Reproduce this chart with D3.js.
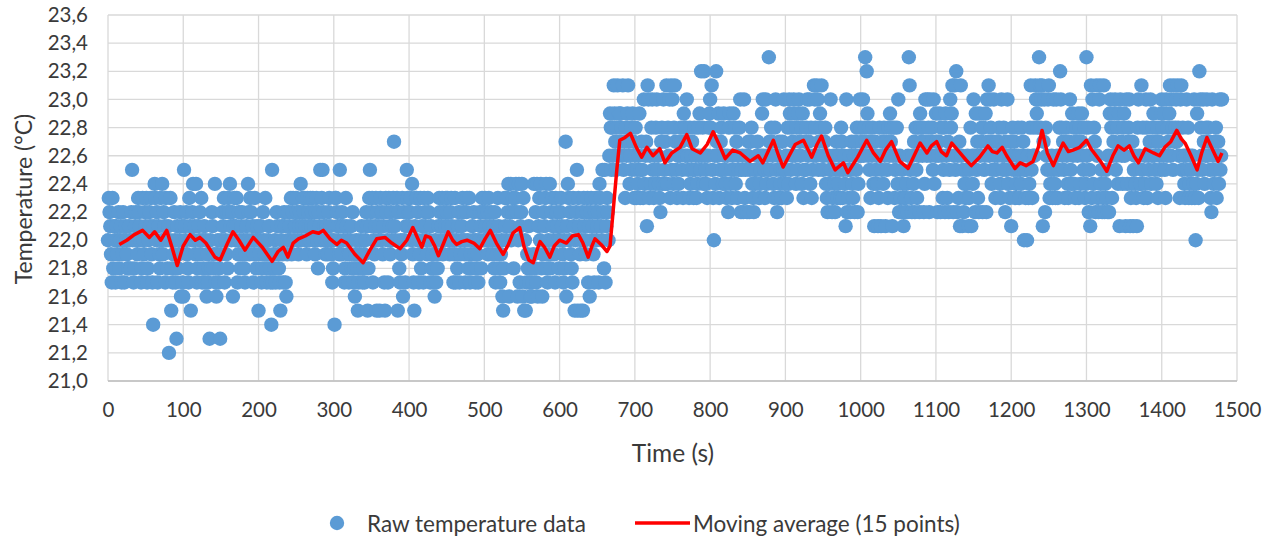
<!DOCTYPE html>
<html>
<head>
<meta charset="utf-8">
<script src="https://cdn.jsdelivr.net/npm/d3@7"></script>
<style>
    body { margin: 0; background: #ffffff; }
    text { font-family: Lato, "Open Sans", sans-serif; fill: #3a3a3a; }
</style>
</head>
<body>
<svg id="chart" width="1273" height="537"></svg>
<script>
// Raw readings, one per second from t = 0 s, coded in tenths of a degree:
// 'a' = 21.0, 'b' = 21.1, ... 'k' = 22.0, ... 'x' = 23.3 (groups of 10 s).
const raw0000 = "knmljhnilk hljkmiklhj mkhlkjiilk impkhilmkj nmlkhinkjm lnhikmlnjh elonkmhlji nkojmlhnki lcknfihjmk hdlijkmglh";
const raw0100 = "gplkmjihnl fkmokljohi lkmjnhkilh kgjhidkiml ijohgjkhid jkmlnhkjmi nmolkmglnk lnhjmkilmj kihjlkomjn mklhjnkilk";
const raw0200 = "fjklhimkjn ihjkliheph jikhmljihf kljhmlhgjk mlknjmnkll nmkjlmokln mnlkjnmlkn lmnkljmnki mlpknpmlkj lkjmnlkjhi";
const raw0300 = "kennmlkjpl jmlkhinlkj hjklimhigj kifhjiklhi jhkmlfinpl mnhkjlnfmk lfnkmjlhfn mkhnljmkln rlkmnfmihk jngmkhlpnm";
const raw0400 = "lmnkojhfln nkmhjnilkh nmlkjnmkhl ijhigkhjil nmklnjmkln mnlkjmnlkh jnhkilmhjk lnmkjhmnki nhjilkmjhk ijhkmlinmk";
const raw0500 = "mnlkmjnlkm kjlimhkjnl ihjkgfinlk nmoglokmni mnomgkohlm ognfkfhjil hgighjoimh oglnkoigjm lnoihkjoim nlkjhnmlki";
const raw0600 = "kmnljhkirg lonkmjihnl fkmpfnljfk mfnlkjmnhl gmnkljhmnk lmhonlkpmi phlnmkqtsp sqvtrpsvqt rtsqvprnsq tvroqsptrn";
const raw0700 = "qsnpoqtnpr pnuoqrlvun qosupnqosu pqonmrsoup rovosqunvp uosvrpnqor qsrpntsqsu qpnsoqrpns pqnosqtpwq sowqponqst";
const raw0800 = "usvpnkqowr qtnprspotq ponqmstopn qtpsornqps umpqmunpqm qrmprsonmp opqrqnopqt uqpnuoqpxr psrqonsupm qnropnrpuo";
const raw0900 = "pqnsoutpsq rutqosptur qsotnprpsu qruosnpqvu sqvuprtsvq pqrsonmqop upmnqomprn oqpnsrnpqo lumpnqmpro nqmrpsmoqu";
const raw1000 = "sqruqsxrwt qspnrqsolr pqolnsqlpr osqlrpnsqt rslqsnpqso umqnmpolnm nomqxvpnmq ormspnsqmt srqsmourqu smuqrspuoq";
const raw1100 = "trmqrtmsqn psmtqnrmpu stvmqvpwmq nrlvqlpmon poqlnpslqo uqmtprnmtq rsmspqtmur vqusopruqn prqrsonuqp sqmrpuoqnr";
const raw1200 = "lqsprnoqps qnposqrkpn pkqnosvpnq sqvutsuxvs uvlrumsqpu vnopqnupon uqnpswusqr pnrsqonrup otqsonrsqt nsortqpsno";
const raw1300 = "xqsmplvnuo srmvqnmuvo pmnvmopnmq mtusnqrtup qsotlurqos tqluorsuln orlpqonlsu qoovpsnqou snqpruoqst qprosnrqpt";
const raw1400 = "usqtpnuqsr tvquspvrsu rvsqnuvpsq onqupsnoqp nqounkotpn wusqpuroqs uqsrpnmuqo prsnqroupq u";

// Moving average (15 points)
const maTimes = [15, 25, 35, 46, 55, 62, 70, 78, 85, 92, 100, 109, 116, 122, 130, 142, 149, 158, 166, 174,
    182, 193, 205, 218, 226, 233, 239, 246, 253, 262, 272, 280, 286, 295, 304, 310, 317, 328, 339, 348,
    357, 368, 377, 388, 397, 405, 411, 417, 422, 428, 434, 439, 446, 452, 458, 463, 470, 477, 486, 494,
    501, 508, 516, 525, 532, 538, 547, 553, 559, 565, 570, 574, 580, 587, 593, 600, 609, 617, 625, 631,
    638, 643, 647, 655, 663, 667, 671, 676, 680, 687, 694, 702, 709, 716, 724, 733, 740, 749, 760, 769,
    776, 787, 796, 804, 812, 820, 830, 840, 853, 864, 870, 877, 884, 891, 897, 905, 913, 924, 935, 942,
    948, 957, 966, 977, 983, 990, 996, 1008, 1017, 1026, 1033, 1041, 1052, 1063, 1071, 1079, 1088, 1094, 1101, 1107,
    1114, 1121, 1132, 1140, 1147, 1158, 1169, 1175, 1181, 1188, 1194, 1205, 1212, 1220, 1229, 1236, 1241, 1248, 1256, 1263,
    1269, 1276, 1282, 1291, 1300, 1306, 1313, 1320, 1327, 1335, 1342, 1350, 1357, 1363, 1369, 1378, 1389, 1397, 1404, 1412,
    1420, 1426, 1431, 1439, 1447, 1453, 1460, 1467, 1475, 1480];
const maValues = [21.97, 22.00, 22.04, 22.07, 22.02, 22.06, 22.00, 22.07, 21.95, 21.82, 21.96, 22.04, 22.00, 22.02, 21.98, 21.88, 21.86, 21.97, 22.06, 22.00,
    21.93, 22.02, 21.95, 21.85, 21.92, 21.95, 21.88, 21.98, 22.01, 22.03, 22.06, 22.05, 22.07, 22.01, 21.97, 22.00, 21.98, 21.90, 21.84, 21.93,
    22.01, 22.02, 21.98, 21.94, 22.00, 22.09, 22.02, 21.95, 22.03, 22.02, 21.96, 21.89, 21.98, 22.06, 22.00, 21.97, 21.99, 22.00, 21.98, 21.94,
    22.01, 22.07, 21.98, 21.90, 21.97, 22.05, 22.09, 21.95, 21.86, 21.84, 21.93, 21.99, 21.95, 21.88, 21.96, 22.00, 21.98, 22.03, 22.04, 21.98,
    21.88, 21.96, 22.01, 21.97, 21.92, 21.96, 22.20, 22.50, 22.71, 22.73, 22.76, 22.66, 22.59, 22.66, 22.60, 22.65, 22.55, 22.62, 22.66, 22.75,
    22.65, 22.62, 22.68, 22.77, 22.68, 22.58, 22.64, 22.62, 22.56, 22.60, 22.55, 22.63, 22.71, 22.60, 22.52, 22.60, 22.68, 22.71, 22.59, 22.68,
    22.74, 22.60, 22.50, 22.55, 22.48, 22.54, 22.59, 22.71, 22.62, 22.56, 22.64, 22.70, 22.56, 22.51, 22.60, 22.69, 22.62, 22.67, 22.70, 22.63,
    22.60, 22.69, 22.62, 22.57, 22.53, 22.59, 22.67, 22.63, 22.62, 22.66, 22.60, 22.51, 22.55, 22.53, 22.56, 22.66, 22.78, 22.62, 22.53, 22.62,
    22.69, 22.63, 22.64, 22.66, 22.71, 22.65, 22.60, 22.55, 22.49, 22.60, 22.67, 22.64, 22.67, 22.60, 22.55, 22.65, 22.62, 22.60, 22.66, 22.70,
    22.78, 22.72, 22.69, 22.60, 22.50, 22.62, 22.73, 22.65, 22.56, 22.62];

// Axis ticks
const xTickValues = [0, 100, 200, 300, 400, 500, 600, 700, 800, 900, 1000, 1100, 1200, 1300, 1400, 1500];
const yTickValues = [21.0, 21.2, 21.4, 21.6, 21.8, 22.0, 22.2, 22.4, 22.6, 22.8, 23.0, 23.2, 23.4, 23.6];

const legendLabels = ["Raw temperature data", "Moving average (15 points)"];

/** Turns the coded blocks into {t, v} records. */
function decodeRaw(blocks) {
    let codes = blocks.join("").replace(/\s/g, "");
    return Array.from(codes).map((c, i) => ({t: i, v: 21.0 + (c.charCodeAt(0) - 97) / 10}));
}

let rawData = decodeRaw([raw0000, raw0100, raw0200, raw0300, raw0400, raw0500, raw0600, raw0700,
                         raw0800, raw0900, raw1000, raw1100, raw1200, raw1300, raw1400]);
let maData = maTimes.map((t, i) => ({t: t, v: maValues[i]}));

const svg = d3.select("#chart");
const plot = {left: 108, right: 1237, top: 15, bottom: 381};

let x = d3.scaleLinear().domain([0, 1500]).range([plot.left, plot.right]);
let y = d3.scaleLinear().domain([21.0, 23.6]).range([plot.bottom, plot.top]);

svg.append("rect").attr("width", 1273).attr("height", 537).attr("fill", "#ffffff");

// gridlines
svg.append("g")
    .selectAll("line.hgrid")
    .data(yTickValues)
    .join("line")
    .attr("x1", plot.left).attr("x2", plot.right)
    .attr("y1", d => y(d)).attr("y2", d => y(d))
    .attr("stroke", "#d9d9d9").attr("stroke-width", 1.3);

svg.append("g")
    .selectAll("line.vgrid")
    .data(xTickValues)
    .join("line")
    .attr("x1", d => x(d)).attr("x2", d => x(d))
    .attr("y1", plot.top).attr("y2", plot.bottom)
    .attr("stroke", "#d9d9d9").attr("stroke-width", 1.3);

// bottom axis line
svg.append("line")
    .attr("x1", plot.left).attr("x2", plot.right)
    .attr("y1", y(21.0)).attr("y2", y(21.0))
    .attr("stroke", "#bfbfbf").attr("stroke-width", 1.5);

// tick labels, decimal comma
let commaFmt = d => d3.format(".1f")(d).replace(".", ",");

let xAxis = d3.axisBottom(x).tickValues(xTickValues).tickSize(0).tickPadding(21).tickFormat(d3.format("d"));
let xg = svg.append("g").attr("transform", `translate(0,${plot.bottom})`).call(xAxis);
xg.select(".domain").remove();
xg.selectAll("text").style("font-size", "20.5px").attr("fill", "#3a3a3a");

let yAxis = d3.axisLeft(y).tickValues(yTickValues).tickSize(0).tickPadding(20).tickFormat(commaFmt);
let yg = svg.append("g").attr("transform", `translate(${plot.left},0)`).call(yAxis);
yg.select(".domain").remove();
yg.selectAll("text").style("font-size", "20.5px").attr("fill", "#3a3a3a");

// raw points
svg.append("g")
    .selectAll("circle")
    .data(rawData)
    .join("circle")
    .attr("cx", d => x(d.t))
    .attr("cy", d => y(d.v))
    .attr("r", 7.2)
    .attr("fill", "#5b9bd5");

// moving average
let line = d3.line().x(d => x(d.t)).y(d => y(d.v));
svg.append("path")
    .datum(maData)
    .attr("d", line)
    .attr("fill", "none")
    .attr("stroke", "#ff0000")
    .attr("stroke-width", 3.5)
    .attr("stroke-linejoin", "round");

// axis titles
svg.append("text")
    .attr("x", 673)
    .attr("y", 452)
    .attr("text-anchor", "middle")
    .attr("dominant-baseline", "central")
    .style("font-size", "24.5px")
    .text("Time (s)");

svg.append("text")
    .attr("transform", "translate(23,199) rotate(-90)")
    .attr("text-anchor", "middle")
    .attr("dominant-baseline", "central")
    .style("font-size", "23px")
    .text("Temperature (°C)");

// legend
let legend = svg.append("g").attr("transform", "translate(0,523)");
legend.append("circle").attr("cx", 337).attr("cy", 0).attr("r", 7.2).attr("fill", "#5b9bd5");
legend.append("text").attr("x", 367).attr("y", 0).attr("dominant-baseline", "central")
    .style("font-size", "22.5px").text(legendLabels[0]);
legend.append("line").attr("x1", 635).attr("x2", 690).attr("y1", 0).attr("y2", 0)
    .attr("stroke", "#ff0000").attr("stroke-width", 3.5);
legend.append("text").attr("x", 693).attr("y", 0).attr("dominant-baseline", "central")
    .style("font-size", "22.5px").text(legendLabels[1]);
</script>
</body>
</html>
